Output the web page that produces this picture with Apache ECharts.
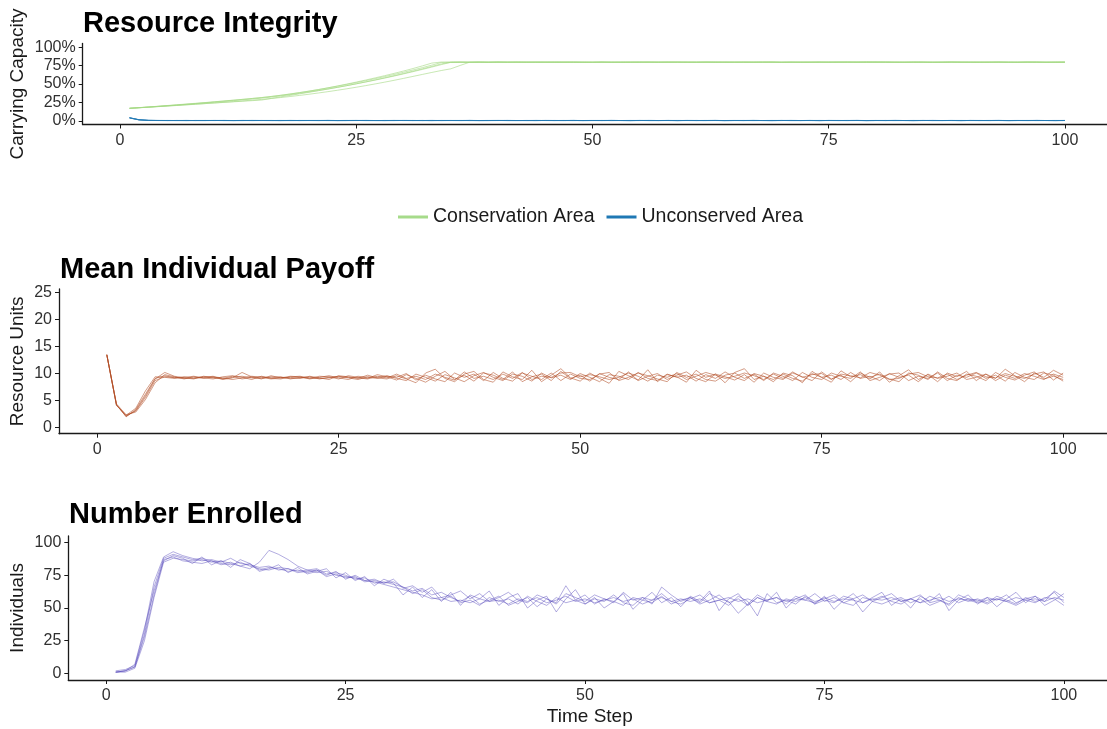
<!DOCTYPE html>
<html>
<head>
<meta charset="utf-8">
<script src="https://cdn.jsdelivr.net/npm/echarts@6/dist/echarts.min.js"></script>
<style>
  html, body { margin: 0; padding: 0; background: #ffffff; }
  #chart { width: 1107px; height: 729px; }
</style>
</head>
<body>
<div id="chart"></div>
<script>
// Tick labels
var xTicks = [0, 25, 50, 75, 100];
var capacityTicks = [0, 25, 50, 75, 100];
var payoffTicks = [0, 5, 10, 15, 20, 25];
var enrolledTicks = [0, 25, 50, 75, 100];

// Resource integrity, % of carrying capacity, five runs per area (time steps 1..100)
var conservationRuns = [
  [17.0,17.9,18.8,19.8,20.8,21.8,22.8,23.8,24.8,25.9, 27.0,28.1,29.2,30.4,31.6,33.0,34.6,36.3,38.2,40.2,
   42.4,44.8,47.3,49.9,52.6,55.4,58.3,61.3,64.4,67.6, 71.0,74.6,78.4,79.8,79.6,79.9,79.5,79.7,80.0,79.6,
   79.4,79.7,79.9,79.5,79.6,79.8,79.4,79.7,79.5,79.8, 79.6,79.3,79.7,79.9,79.5,79.6,79.8,79.4,79.6,79.9,
   79.7,79.5,79.8,79.6,79.3,79.7,79.9,79.6,79.4,79.7, 79.8,79.5,79.6,79.9,79.7,79.4,79.6,80.1,79.8,79.5,
   79.6,79.8,79.4,79.7,79.9,79.5,79.6,79.8,79.7,79.4, 79.6,79.9,79.7,79.5,79.8,79.6,79.4,79.7,79.8,79.5],
  [17.0,17.8,18.7,19.6,20.5,21.5,22.5,23.5,24.6,25.7, 26.8,27.9,29.1,30.3,31.6,33.1,34.7,36.5,38.4,40.4,
   42.5,44.7,47.0,49.4,51.9,54.5,57.2,60.0,62.9,65.9, 69.0,72.2,75.6,79.2,79.7,79.5,79.8,79.6,79.4,79.9,
   79.7,79.5,79.6,79.8,79.4,79.7,79.9,79.6,79.3,79.6, 79.8,79.5,79.4,79.7,79.9,79.6,79.5,79.8,79.7,79.4,
   79.6,79.8,80.0,79.7,79.5,79.6,79.4,79.8,79.9,79.6, 79.5,79.7,79.8,79.4,79.6,79.9,79.7,79.5,79.3,79.6,
   79.8,79.7,79.5,79.9,79.6,79.3,79.7,79.8,79.5,79.6, 79.7,79.4,79.6,79.8,79.5,79.7,79.9,79.6,79.4,79.7],
  [17.0,17.8,18.6,19.5,20.4,21.3,22.3,23.3,24.3,25.3, 26.3,27.4,28.5,29.6,30.8,32.2,33.8,35.5,37.3,39.2,
   41.2,43.3,45.5,47.8,50.2,52.7,55.3,58.0,60.8,63.7, 66.7,69.8,73.0,76.3,79.4,79.6,79.4,79.7,79.5,79.8,
   79.6,79.9,79.5,79.3,79.7,79.8,79.6,79.4,79.8,79.5, 79.7,79.6,79.9,79.5,79.4,79.8,79.6,79.7,79.9,79.5,
   79.4,79.7,79.5,79.8,79.6,79.9,79.5,79.7,79.6,79.3, 79.7,79.6,79.4,79.8,79.5,79.7,79.9,79.6,80.2,79.8,
   79.5,79.4,79.7,79.6,79.8,79.3,79.5,79.7,79.9,79.6, 79.5,79.7,79.8,79.6,79.4,79.8,79.6,79.5,79.7,79.6],
  [17.0,17.8,18.6,19.4,20.2,21.0,21.8,22.6,23.4,24.2, 25.0,25.8,26.6,27.4,28.2,30.4,32.5,34.5,36.6,38.7,
   40.9,43.1,45.4,47.8,50.3,52.9,55.6,58.4,61.3,64.3, 67.4,70.6,73.9,77.3,79.5,79.7,79.5,79.7,79.4,79.6,
   79.8,79.5,79.7,79.9,79.6,79.4,79.7,79.8,79.6,79.5, 79.9,79.7,79.4,79.6,79.8,79.5,79.7,79.9,79.4,79.6,
   79.8,79.6,79.3,79.7,79.9,79.5,79.6,79.8,79.7,79.5, 79.4,79.8,79.6,79.7,79.5,79.9,79.6,79.4,79.9,80.1,
   79.7,79.5,79.8,79.4,79.6,79.9,79.7,79.5,79.6,79.8, 79.4,79.6,79.8,79.7,79.5,79.6,79.8,79.4,79.7,79.8],
  [17.0,17.7,18.4,19.2,20.0,20.8,21.6,22.5,23.4,24.3, 25.2,26.1,27.1,28.1,29.1,30.3,31.6,33.0,34.5,36.1,
   37.8,39.6,41.5,43.5,45.6,47.8,50.1,52.5,55.0,57.6, 60.3,63.0,65.7,68.3,70.6,75.2,79.6,79.8,79.5,79.7,
   79.6,79.8,79.4,79.7,79.9,79.5,79.6,79.8,79.7,79.4, 79.5,79.8,79.6,79.4,79.7,79.9,79.5,79.6,79.8,79.7,
   79.5,79.9,79.6,79.4,79.8,79.6,79.7,79.5,79.9,79.6, 79.8,79.4,79.7,79.6,79.9,79.5,79.8,79.7,79.4,79.6,
   79.9,79.6,79.5,79.8,79.4,79.7,79.6,79.9,79.5,79.7, 79.8,79.5,79.7,79.4,79.6,79.9,79.7,79.6,79.5,79.8]
];

var unconservedRuns = [
  [4.2,1.5,0.6,0.4,0.5,0.4,0.3,0.5,0.4,0.4, 0.5,0.3,0.4,0.5,0.4,0.4,0.3,0.5,0.4,0.4, 0.5,0.4,0.3,0.4,0.5,0.4,0.4,0.3,0.5,0.4,
   0.4,0.5,0.3,0.4,0.4,0.5,0.4,0.3,0.4,0.5, 0.4,0.4,0.3,0.5,0.4,0.4,0.5,0.3,0.4,0.4, 0.5,0.4,0.4,0.3,0.5,0.4,0.4,0.5,0.3,0.4,
   0.4,0.5,0.4,0.3,0.4,0.5,0.4,0.4,0.3,0.5, 0.4,0.4,0.5,0.3,0.4,0.4,0.5,0.4,0.3,0.4, 0.5,0.4,0.4,0.3,0.5,0.4,0.4,0.5,0.3,0.4,
   0.4,0.5,0.4,0.3,0.4,0.5,0.4,0.4,0.3,0.5],
  [4.0,1.2,0.5,0.4,0.3,0.5,0.4,0.4,0.3,0.5, 0.4,0.4,0.5,0.3,0.4,0.4,0.5,0.4,0.3,0.4, 0.4,0.5,0.4,0.3,0.4,0.5,0.4,0.4,0.3,0.5,
   0.4,0.4,0.5,0.3,0.4,0.4,0.5,0.4,0.3,0.4, 0.5,0.4,0.4,0.3,0.5,0.4,0.4,0.5,0.3,0.4, 0.4,0.5,0.4,0.3,0.4,0.5,0.4,0.4,0.3,0.5,
   0.4,0.4,0.5,0.3,0.4,0.4,0.5,0.4,0.3,0.4, 0.5,0.4,0.4,0.3,0.5,0.4,0.4,0.5,0.3,0.4, 0.4,0.5,0.4,0.3,0.4,0.5,0.4,0.4,0.3,0.5,
   0.4,0.4,0.5,0.3,0.4,0.4,0.5,0.4,0.3,0.4],
  [3.8,1.4,0.7,0.5,0.4,0.4,0.5,0.3,0.4,0.4, 0.5,0.4,0.3,0.4,0.5,0.4,0.4,0.3,0.5,0.4, 0.4,0.5,0.3,0.4,0.4,0.5,0.4,0.3,0.4,0.5,
   0.4,0.4,0.3,0.5,0.4,0.4,0.5,0.3,0.4,0.4, 0.5,0.4,0.4,0.3,0.5,0.4,0.4,0.5,0.3,0.4, 0.4,0.5,0.4,0.3,0.4,0.5,0.4,0.4,0.3,0.5,
   0.4,0.4,0.5,0.3,0.4,0.4,0.5,0.4,0.3,0.4, 0.5,0.4,0.4,0.3,0.5,0.4,0.4,0.5,0.3,0.4, 0.4,0.5,0.4,0.3,0.4,0.5,0.4,0.4,0.3,0.5,
   0.4,0.4,0.5,0.3,0.4,0.4,0.5,0.4,0.3,0.4],
  [4.1,1.6,0.5,0.4,0.4,0.3,0.5,0.4,0.4,0.5, 0.3,0.4,0.4,0.5,0.4,0.3,0.4,0.5,0.4,0.4, 0.3,0.5,0.4,0.4,0.5,0.3,0.4,0.4,0.5,0.4,
   0.3,0.4,0.5,0.4,0.4,0.3,0.5,0.4,0.4,0.5, 0.3,0.4,0.4,0.5,0.4,0.3,0.4,0.5,0.4,0.4, 0.3,0.5,0.4,0.4,0.5,0.3,0.4,0.4,0.5,0.4,
   0.3,0.4,0.5,0.4,0.4,0.3,0.5,0.4,0.4,0.5, 0.3,0.4,0.4,0.5,0.4,0.3,0.4,0.5,0.4,0.4, 0.3,0.5,0.4,0.4,0.5,0.3,0.4,0.4,0.5,0.4,
   0.3,0.4,0.5,0.4,0.4,0.3,0.5,0.4,0.4,0.5],
  [4.3,1.3,0.6,0.5,0.4,0.4,0.3,0.4,0.5,0.4, 0.4,0.3,0.5,0.4,0.4,0.5,0.3,0.4,0.4,0.5, 0.4,0.3,0.4,0.5,0.4,0.4,0.3,0.5,0.4,0.4,
   0.5,0.3,0.4,0.4,0.5,0.4,0.3,0.4,0.5,0.4, 0.4,0.3,0.5,0.4,0.4,0.5,0.3,0.4,0.4,0.5, 0.4,0.3,0.4,0.5,0.4,0.4,0.3,0.5,0.4,0.4,
   0.5,0.3,0.4,0.4,0.5,0.4,0.3,0.4,0.5,0.4, 0.4,0.3,0.5,0.4,0.4,0.5,0.3,0.4,0.4,0.5, 0.4,0.3,0.4,0.5,0.4,0.4,0.3,0.5,0.4,0.4,
   0.5,0.3,0.4,0.4,0.5,0.4,0.3,0.4,0.5,0.4]
];

// Mean individual payoff, resource units, five runs
var payoffRuns = [
  [13.5,4.2,2.2,3.1,5.6,8.7,9.4,9.3,9.1,9.2, 9.4,9.2,9.0,9.3,9.5,9.2,9.1,9.4,9.3,9.1,
   9.2,9.4,9.0,9.3,9.5,9.2,8.9,9.4,9.3,9.6, 9.1,8.7,9.9,9.3,8.6,9.8,9.2,8.5,9.6,10.2,
   9.3,8.7,9.9,9.5,8.6,10.1,9.2,9.7,8.9,10.0, 9.3,8.5,9.8,9.5,8.9,10.2,9.1,8.7,9.9,9.3,
   9.7,8.6,9.8,9.1,10.3,9.3,8.7,10.0,9.5,8.9, 9.9,9.1,8.6,10.0,9.3,9.7,8.9,10.2,9.1,9.5,
   8.7,10.0,9.3,9.7,8.5,9.9,9.1,9.5,10.1,8.9, 9.3,9.9,8.7,9.7,9.1,10.0,9.5,8.9,9.9,9.3],
  [13.4,4.3,2.0,3.4,6.2,9.1,9.6,9.2,9.4,9.1, 9.3,9.5,8.9,9.2,10.2,9.4,9.0,9.6,9.2,9.3,
   9.1,9.5,9.2,8.9,9.6,9.4,9.1,9.7,9.2,9.0, 9.6,9.0,8.3,10.1,10.8,9.1,8.5,9.9,10.4,8.9,
   8.4,10.3,9.4,8.9,10.6,8.5,9.7,10.9,9.2,8.6, 10.1,9.1,8.2,10.4,9.6,8.8,10.7,8.5,9.8,9.4,
   8.4,10.6,9.3,9.9,8.3,10.2,10.9,8.9,9.5,8.5, 10.1,9.6,8.3,10.4,9.3,8.4,10.5,9.4,9.8,9.0,
   10.3,8.4,9.6,10.7,8.9,9.8,8.5,10.1,9.4,10.4, 8.7,9.9,9.1,10.8,9.6,8.5,10.1,9.3,10.6,9.7],
  [13.5,4.1,2.3,3.6,6.8,9.4,9.3,9.1,9.3,9.5, 9.2,9.0,9.4,9.6,9.3,8.9,9.5,9.2,9.4,9.0,
   9.3,9.1,9.5,9.4,9.0,9.6,9.3,9.1,9.8,9.4, 8.8,9.8,9.1,8.4,9.5,10.4,8.9,9.7,8.6,10.1,
   9.7,8.9,10.3,8.5,9.4,9.9,8.7,10.4,9.1,9.7, 8.6,10.0,9.3,8.9,10.3,8.7,9.5,10.0,8.9,9.7,
   10.3,9.1,8.5,9.9,9.4,8.8,9.8,8.4,10.1,9.3, 8.9,10.1,9.4,8.7,10.3,9.0,9.7,8.5,10.1,9.3,
   9.9,9.0,8.5,10.1,9.7,8.9,10.3,9.1,8.7,9.9, 9.5,8.7,10.2,9.3,8.8,9.7,10.3,9.0,9.5,8.9],
  [13.4,4.4,2.4,2.9,5.2,8.3,9.8,9.4,9.0,9.4, 9.1,9.4,9.2,8.9,9.2,9.5,9.3,9.0,9.2,9.5,
   9.4,9.0,9.3,9.6,9.2,8.9,9.5,9.3,9.1,9.5, 9.3,10.0,8.8,9.7,9.0,8.5,10.1,9.3,9.9,8.7,
   10.2,9.1,8.6,10.1,9.5,8.9,10.1,8.7,9.9,9.1, 8.9,9.9,10.2,8.7,9.3,10.1,9.6,9.0,8.5,10.2,
   9.3,9.9,8.9,8.6,9.7,10.1,9.1,9.9,8.7,10.1, 9.5,8.7,10.2,9.3,8.9,10.1,9.5,9.1,10.3,8.7,
   9.3,9.9,10.1,8.7,9.5,9.1,10.1,8.7,9.7,9.3, 10.1,9.1,9.7,8.6,10.2,9.3,8.9,10.1,9.7,8.6],
  [13.5,4.2,2.1,3.2,5.9,9.0,10.2,9.5,9.2,9.0, 9.5,9.3,9.1,9.5,9.0,9.3,9.4,9.1,9.0,9.4,
   9.5,9.2,9.1,9.2,9.4,9.3,9.2,9.0,9.5,9.2, 9.9,9.1,9.5,8.9,9.9,9.3,8.8,10.3,9.1,9.5,
   8.9,9.9,9.1,10.2,8.9,9.5,9.3,10.1,10.2,9.4, 9.8,9.4,8.9,9.3,10.1,9.5,8.6,9.7,9.3,10.0,
   8.9,9.5,10.2,9.7,9.1,9.5,10.1,9.6,8.9,9.9, 9.1,10.3,9.3,9.8,10.0,8.9,9.9,9.6,9.2,10.2,
   9.7,8.9,9.1,9.9,10.2,9.4,9.2,9.9,8.9,9.7, 10.2,9.4,9.2,10.0,9.5,9.1,9.9,10.3,8.8,10.1]
];

// Number of individuals enrolled, five runs
var enrolledRuns = [
  [1,2,5,30,66,88,91,89,87,88, 86,84,83,85,82,80,79,81,80,78, 79,77,78,75,74,73,71,70,68,66,
   64,62,60,57,58,55,56,54,57,55, 56,53,57,55,58,54,56,59,55,57, 54,56,58,55,57,53,56,58,55,57,
   55,57,54,56,58,55,57,54,56,58, 55,57,56,54,58,55,57,56,54,57, 56,58,55,57,54,56,58,55,57,56,
   54,56,57,55,58,56,57,55,58,56],
  [1,1,4,25,58,85,88,87,86,87, 85,86,84,82,80,85,94,91,87,82, 79,80,76,77,75,72,73,69,70,68,
   66,63,65,60,62,58,55,59,53,56, 59,52,55,58,51,57,54,67,56,53, 57,55,60,54,52,58,56,61,55,53,
   57,60,54,56,52,59,55,44,61,54, 56,53,59,55,57,60,54,52,58,56, 59,55,53,57,60,54,56,52,58,55,
   57,54,59,56,53,58,55,57,62,54],
  [2,3,6,33,70,89,93,90,88,86, 87,85,88,84,83,81,82,79,80,77, 78,79,74,76,73,74,70,71,69,72,
   65,67,62,66,58,60,63,57,61,55, 58,62,56,54,60,57,53,61,58,55, 60,57,54,62,56,58,53,66,60,55,
   58,54,61,57,55,46,53,60,56,58, 53,59,56,61,55,58,54,57,60,55, 58,61,55,57,54,59,56,53,60,57,
   55,58,56,60,54,57,59,55,63,58],
  [1,2,7,35,63,86,90,88,84,89, 83,86,81,87,84,78,80,83,77,81, 76,78,80,73,77,71,74,67,72,69,
   60,66,58,64,55,62,52,60,57,63, 52,58,61,50,56,59,47,57,64,53, 58,50,55,61,49,56,62,54,58,51,
   59,55,63,48,57,61,52,58,55,62, 50,57,60,53,59,49,56,61,54,58, 62,52,57,50,59,55,61,48,56,60,
   53,58,51,57,62,54,59,52,56,61],
  [1,2,5,28,60,87,89,86,85,84, 86,83,85,82,84,79,81,80,78,79, 77,79,75,78,72,75,71,72,69,70,
   66,61,64,58,56,59,54,56,52,58, 55,57,53,59,55,52,58,54,56,60, 53,57,55,52,58,56,54,59,53,56,
   58,53,56,60,54,57,52,58,55,53, 57,55,58,53,56,54,59,57,47,55, 53,56,58,54,57,52,55,59,54,57,
   56,53,57,55,52,56,54,58,57,52]
];

var FONT = "'Liberation Sans', Arial, sans-serif";
var INK = '#1a1a1a';
var TICK_INK = '#303030';

function pairs(values) {
  return values.map(function (v, i) { return [i + 1, v]; });
}

function xAxisFor(gridIndex, withName) {
  var ax = {
    type: 'value', gridIndex: gridIndex, min: -3.95, max: 104.95,
    splitLine: { show: false },
    axisLine: { show: true, onZero: false, lineStyle: { color: INK, width: 1.3 } },
    axisTick: { show: true, length: 4, customValues: xTicks, lineStyle: { color: INK, width: 1 } },
    axisLabel: { show: true, customValues: xTicks, margin: 8, fontSize: 16, color: TICK_INK, fontFamily: FONT }
  };
  if (withName) {
    ax.name = 'Time Step';
    ax.nameLocation = 'middle';
    ax.nameGap = 27;
    ax.nameMoveOverlap = false;
    ax.nameTextStyle = { fontSize: 19, color: INK, fontFamily: FONT };
  }
  return ax;
}

function yAxisFor(gridIndex, min, max, ticks, name, gap, fmt) {
  return {
    type: 'value', gridIndex: gridIndex, min: min, max: max,
    name: name, nameLocation: 'middle', nameGap: gap, nameMoveOverlap: false,
    nameTextStyle: { fontSize: 19, color: INK, fontFamily: FONT },
    splitLine: { show: false },
    axisLine: { show: true, onZero: false, lineStyle: { color: INK, width: 1.3 } },
    axisTick: { show: true, length: 4, customValues: ticks, lineStyle: { color: INK, width: 1 } },
    axisLabel: { show: true, customValues: ticks, margin: 7, fontSize: 16, color: TICK_INK, fontFamily: FONT,
                 formatter: fmt || '{value}' }
  };
}

var series = [];
function addRuns(runs, name, gridIndex, color, opacity) {
  runs.forEach(function (run) {
    series.push({
      type: 'line', name: name, xAxisIndex: gridIndex, yAxisIndex: gridIndex,
      data: pairs(run), showSymbol: false, symbol: 'none', silent: true,
      itemStyle: { color: color },
      lineStyle: { color: color, width: 1, opacity: opacity },
      z: 2
    });
  });
}
addRuns(conservationRuns, 'Conservation Area', 0, '#a3d982', 0.6);
addRuns(unconservedRuns, 'Unconserved Area', 0, '#1f78b4', 0.6);
addRuns(payoffRuns, 'Mean Individual Payoff', 1, '#b04a22', 0.55);
addRuns(enrolledRuns, 'Number Enrolled', 2, '#5548bb', 0.45);

var chart = echarts.init(document.getElementById('chart'), null, { renderer: 'canvas' });
chart.setOption({
  animation: false,
  backgroundColor: '#ffffff',
  title: [
    { text: 'Resource Integrity', left: 78, top: 4,
      textStyle: { fontSize: 29, fontWeight: 'bold', color: '#000', fontFamily: FONT } },
    { text: 'Mean Individual Payoff', left: 55, top: 250,
      textStyle: { fontSize: 29, fontWeight: 'bold', color: '#000', fontFamily: FONT } },
    { text: 'Number Enrolled', left: 64, top: 495,
      textStyle: { fontSize: 29, fontWeight: 'bold', color: '#000', fontFamily: FONT } }
  ],
  legend: {
    left: 393, top: 202, icon: 'rect', itemWidth: 30, itemHeight: 3, itemGap: 12,
    selectedMode: false,
    textStyle: { fontSize: 19.5, color: INK, fontFamily: FONT },
    data: [
      { name: 'Conservation Area', itemStyle: { color: '#a6db8a', opacity: 1 } },
      { name: 'Unconserved Area', itemStyle: { color: '#1f78b4', opacity: 1 } }
    ]
  },
  grid: [
    { left: 82.7, top: 43.5, width: 1029, height: 81, outerBoundsMode: 'none' },
    { left: 59, top: 289, width: 1052, height: 144.7, outerBoundsMode: 'none' },
    { left: 68.3, top: 536, width: 1043, height: 144, outerBoundsMode: 'none' }
  ],
  xAxis: [xAxisFor(0, false), xAxisFor(1, false), xAxisFor(2, true)],
  yAxis: [
    yAxisFor(0, -5, 105, capacityTicks, 'Carrying Capacity', 55, '{value}%'),
    yAxisFor(1, -1.1, 25.6, payoffTicks, 'Resource Units', 31.5, undefined),
    yAxisFor(2, -5, 105, enrolledTicks, 'Individuals', 41, undefined)
  ],
  series: series
});
</script>
</body>
</html>
